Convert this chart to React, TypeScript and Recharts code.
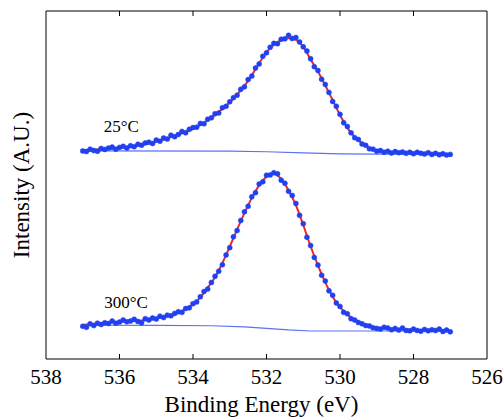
import { ComposedChart, Line, XAxis, YAxis, ReferenceDot, ReferenceLine } from 'recharts';

// energy grid of the measured points: 537.0 eV down to 527.0 eV, 0.1 eV apart
const E_START = 537.0;
const E_STEP = 0.1;
const FIT_EVERY = 2; // fit curve is listed every 0.2 eV

const xTicks = [538, 536, 534, 532, 530, 528, 526];
const innerTicks = [536, 534, 532, 530, 528];

// 25°C spectrum (offset upward)
const dots25 = [
  59.8, 59.6, 60.3, 59.9, 59.7, 60.5, 60.2, 60.6, 60.9, 60.3,
  60.8, 61.1, 60.6, 61.3, 61.0, 61.7, 61.4, 62.1, 62.3, 61.9,
  62.9, 62.6, 63.5, 63.2, 64.3, 63.9, 64.5, 65.4, 65.0, 66.0,
  66.5, 66.6, 67.7, 67.6, 68.9, 69.3, 70.5, 70.7, 72.2, 72.6,
  73.9, 75.1, 75.8, 77.5, 78.2, 80.3, 81.3, 83.6, 84.8, 87.0,
  88.0, 89.6, 90.7, 90.6, 91.9, 92.0, 93.0, 92.1, 92.4, 91.1,
  89.7, 88.5, 86.3, 84.0, 82.9, 80.4, 78.9, 76.6, 74.0, 72.6,
  70.3, 67.9, 66.8, 65.0, 63.6, 63.1, 61.8, 61.4, 60.4, 60.3,
  59.7, 59.9, 59.4, 59.7, 59.2, 59.6, 59.3, 59.5, 59.1, 59.4,
  59.0, 59.4, 59.1, 58.9, 59.3, 58.8, 59.1, 58.7, 59.0, 58.6,
  58.8,
];
const fit25 = [
  60.0, 60.1, 60.2, 60.35, 60.5, 60.7, 60.95, 61.2, 61.55, 61.95,
  62.45, 63.05, 63.75, 64.45, 65.25, 66.15, 67.25, 68.6, 70.15, 71.9,
  73.8, 76.0, 78.5, 81.5, 85.0, 88.1, 90.3, 91.6, 92.2, 91.7,
  89.7, 86.1, 82.6, 78.6, 74.4, 70.1, 66.4, 63.8, 62.0, 60.6,
  59.9, 59.6, 59.5, 59.4, 59.3, 59.25, 59.2, 59.1, 59.0, 58.9,
  58.8,
];
const base25E = [537.0, 533.0, 532.0, 531.0, 530.0, 529.0, 527.0];
const base25 = [59.8, 59.75, 59.55, 59.25, 58.95, 58.85, 58.8];

// 300°C spectrum
const dots300 = [
  9.4, 9.1, 10.1, 9.6, 10.3, 9.9, 10.4, 10.2, 10.9, 10.3,
  10.6, 11.2, 10.7, 10.9, 11.4, 10.8, 10.4, 11.6, 11.2, 11.8,
  11.5, 12.3, 11.9, 12.6, 12.4, 13.1, 13.6, 13.4, 14.5, 14.7,
  15.9, 16.4, 17.9, 19.4, 20.1, 22.0, 23.8, 25.2, 27.1, 29.9,
  32.0, 35.1, 36.9, 39.8, 42.3, 43.9, 46.6, 47.8, 50.3, 50.9,
  52.8, 52.9, 53.5, 53.2, 51.4, 50.5, 48.2, 47.0, 44.7, 41.3,
  38.9, 35.0, 32.6, 29.2, 27.0, 24.1, 22.4, 19.6, 18.3, 16.1,
  15.1, 13.4, 13.0, 11.6, 11.2, 10.5, 10.1, 9.6, 9.5, 9.0,
  8.8, 8.6, 9.1, 8.9, 8.4, 8.8, 8.3, 8.9, 8.2, 8.1,
  8.6, 8.2, 8.0, 8.5, 8.1, 8.4, 8.2, 8.6, 7.9, 8.3,
  7.8,
];
const fit300 = [
  9.8, 10.0, 10.2, 10.4, 10.55, 10.7, 10.8, 10.9, 11.05, 11.3,
  11.65, 12.1, 12.6, 13.3, 14.3, 15.7, 17.7, 20.5, 23.5, 27.6,
  32.3, 37.2, 41.9, 46.3, 49.9, 52.4, 53.4, 51.7, 48.5, 44.2,
  38.5, 32.4, 26.9, 22.0, 17.9, 14.9, 12.8, 11.3, 10.25, 9.4,
  9.0, 8.8, 8.65, 8.55, 8.45, 8.4, 8.33, 8.28, 8.22, 8.17,
  8.13,
];
const base300E = [537.0, 535.0, 533.5, 532.6, 532.0, 531.4, 530.8, 527.0];
const base300 = [9.7, 9.65, 9.55, 9.25, 8.8, 8.35, 8.05, 8.05];

const labels = ['25°C', '300°C'];
const labelE = [535.95, 535.82];
const labelY = [66.9, 16.5];

const key = (e: number) => e.toFixed(1);
const b25 = new Map(base25E.map((e, i) => [key(e), base25[i]]));
const b300 = new Map(base300E.map((e, i) => [key(e), base300[i]]));

const rows = dots25.map((d, i) => {
  const e = Math.round((E_START - i * E_STEP) * 10) / 10;
  const onFit = i % FIT_EVERY === 0;
  return {
    e,
    d25: d,
    f25: onFit ? fit25[i / FIT_EVERY] : undefined,
    b25: b25.get(key(e)),
    d300: dots300[i],
    f300: onFit ? fit300[i / FIT_EVERY] : undefined,
    b300: b300.get(key(e)),
  };
});

const SERIF = '"Liberation Serif", "Times New Roman", Times, serif';
const DOT = '#2140f2';
const FIT = '#f0281e';
const BASE = '#5a72f5';
const X_DOMAIN = [526, 538];
const Y_DOMAIN = [0, 100];
const TICK_LEN = 5; // px, drawn inward
const PLOT_H = 348; // px height of the plotting box, used to size top ticks
const TOP_TICK = Y_DOMAIN[1] - (TICK_LEN / PLOT_H) * (Y_DOMAIN[1] - Y_DOMAIN[0]);

// bottom tick: inward mark plus label
const XTick = ({ x, y, payload }: any) => {
  const edge = payload.value === X_DOMAIN[0] || payload.value === X_DOMAIN[1];
  return (
    <g>
      {!edge && <line x1={x} x2={x} y1={y} y2={y - TICK_LEN} stroke="#000" strokeWidth={1} />}
      <text x={x} y={y + 24.5} textAnchor="middle" fontSize={21} fontFamily={SERIF} fill="#000">
        {payload.value}
      </text>
    </g>
  );
};

const XTitle = ({ viewBox }: any) => (
  <text x={viewBox.x + viewBox.width / 2 - 5} y={viewBox.y + viewBox.height - 6} textAnchor="middle"
    fontSize={23} fontFamily={SERIF} fill="#000">
    Binding Energy (eV)
  </text>
);

const YTitle = ({ viewBox }: any) => {
  const cx = viewBox.x + 21;
  const cy = viewBox.y + viewBox.height / 2;
  return (
    <text x={cx} y={cy} dy={8} transform={`rotate(-90 ${cx} ${cy})`} textAnchor="middle"
      fontSize={23} fontFamily={SERIF} fill="#000">
      Intensity (A.U.)
    </text>
  );
};

const TempLabel = ({ viewBox, value }: any) => (
  <text x={viewBox.x + viewBox.width / 2} y={viewBox.y + viewBox.height / 2} dy={6} textAnchor="middle"
    fontSize={17} fontFamily={SERIF} fill="#000">
    {value}
  </text>
);

export default function App() {
  return (
    <div style={{ position: 'absolute', left: 0, top: 0, width: 504, height: 418, background: '#fff', fontFamily: SERIF }}>
      <ComposedChart width={504} height={418} data={rows} margin={{ top: 11, right: 17, bottom: 0, left: 0 }}>
        <XAxis dataKey="e" type="number" domain={X_DOMAIN} reversed allowDataOverflow ticks={xTicks} interval={0}
          height={59} tickLine={false} tickSize={0} tickMargin={0} stroke="#000" tick={<XTick />}
          label={<XTitle />} />
        <YAxis type="number" domain={Y_DOMAIN} allowDataOverflow width={46} tick={false} tickLine={false} stroke="#000"
          label={<YTitle />} />

        {/* box frame */}
        <ReferenceLine y={Y_DOMAIN[1]} stroke="#000" strokeWidth={1} ifOverflow="visible" />
        <ReferenceLine x={X_DOMAIN[0]} stroke="#000" strokeWidth={1} ifOverflow="visible" />
        {/* inward ticks along the top edge */}
        {innerTicks.map((t) => (
          <ReferenceLine key={t} segment={[{ x: t, y: Y_DOMAIN[1] }, { x: t, y: TOP_TICK }]}
            stroke="#000" strokeWidth={1} ifOverflow="visible" />
        ))}

        <Line dataKey="b25" type="linear" stroke={BASE} strokeWidth={1.2} dot={false} activeDot={false} connectNulls isAnimationActive={false} />
        <Line dataKey="b300" type="linear" stroke={BASE} strokeWidth={1.2} dot={false} activeDot={false} connectNulls isAnimationActive={false} />
        <Line dataKey="d25" stroke="none" dot={{ r: 2.5, fill: DOT, stroke: DOT, strokeWidth: 0.5 }} activeDot={false} isAnimationActive={false} />
        <Line dataKey="d300" stroke="none" dot={{ r: 2.5, fill: DOT, stroke: DOT, strokeWidth: 0.5 }} activeDot={false} isAnimationActive={false} />
        <Line dataKey="f25" type="monotone" stroke={FIT} strokeWidth={2} dot={false} activeDot={false} connectNulls isAnimationActive={false} />
        <Line dataKey="f300" type="monotone" stroke={FIT} strokeWidth={2} dot={false} activeDot={false} connectNulls isAnimationActive={false} />

        {labels.map((t, i) => (
          <ReferenceDot key={t} x={labelE[i]} y={labelY[i]} r={0} fill="none" stroke="none"
            label={<TempLabel value={t} />} />
        ))}
      </ComposedChart>
    </div>
  );
}
